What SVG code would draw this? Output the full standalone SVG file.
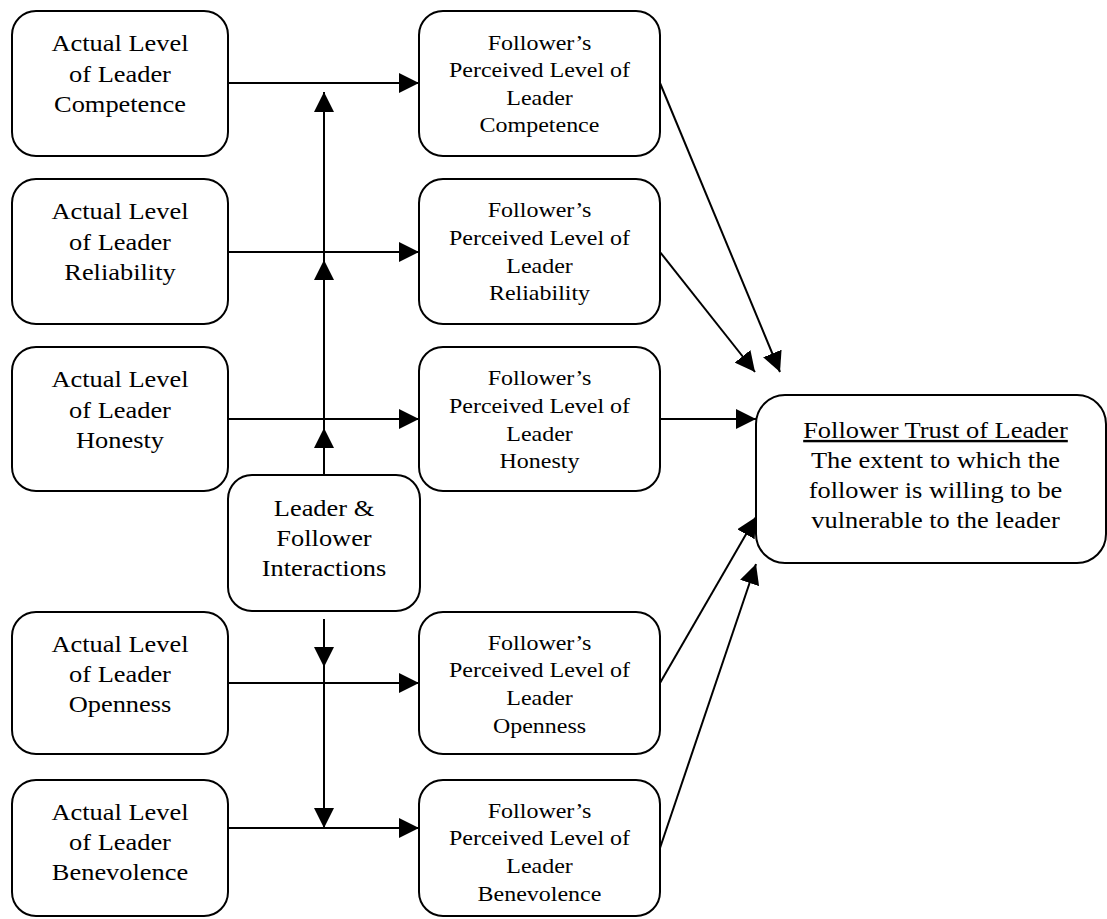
<svg xmlns="http://www.w3.org/2000/svg" width="1107" height="919" viewBox="0 0 1107 919">
<style>
.box{fill:#fff;stroke:#000;stroke-width:2}
.l{font-family:"Liberation Serif","Times New Roman",serif;font-size:24px;text-anchor:middle;fill:#000}
.m{font-family:"Liberation Serif","Times New Roman",serif;font-size:22px;text-anchor:middle;fill:#000}
.c{fill:none;stroke:#000;stroke-width:2;marker-end:url(#ah)}
</style>
<defs>
<marker id="ah" viewBox="0 0 20 20" markerWidth="20" markerHeight="20" refX="20" refY="10" orient="auto" markerUnits="userSpaceOnUse">
<path d="M0,0 L20,10 L0,20 z" fill="#000"/>
</marker>
</defs>
<g id="connectors">
<line class="c" x1="228" y1="83" x2="419" y2="83"/>
<line class="c" x1="228" y1="252" x2="419" y2="252"/>
<line class="c" x1="228" y1="419" x2="419" y2="419"/>
<line class="c" x1="228" y1="683" x2="419" y2="683"/>
<line class="c" x1="228" y1="828" x2="419" y2="828"/>
<line class="c" x1="324" y1="475" x2="324" y2="92"/>
<line class="c" x1="324" y1="475" x2="324" y2="260"/>
<line class="c" x1="324" y1="475" x2="324" y2="428"/>
<line class="c" x1="324" y1="619" x2="324" y2="667"/>
<line class="c" x1="324" y1="619" x2="324" y2="828"/>
<line class="c" x1="660" y1="419" x2="756" y2="419"/>
<line class="c" x1="660" y1="83" x2="780" y2="372"/>
<line class="c" x1="660" y1="252" x2="755" y2="372"/>
<line class="c" x1="660" y1="683" x2="756" y2="517"/>
<line class="c" x1="660" y1="848" x2="756" y2="564"/>
</g>
<g id="actual-competence">
<rect class="box" x="12" y="11" width="216" height="145" rx="24"/>
<g transform="translate(120,0) scale(1.1,1)">
<text class="l" x="0" y="51.5">Actual Level</text>
<text class="l" x="0" y="82">of Leader</text>
<text class="l" x="0" y="112.5">Competence</text>
</g>
</g>
<g id="actual-reliability">
<rect class="box" x="12" y="179" width="216" height="145" rx="24"/>
<g transform="translate(120,0) scale(1.1,1)">
<text class="l" x="0" y="219.5">Actual Level</text>
<text class="l" x="0" y="250">of Leader</text>
<text class="l" x="0" y="280.5">Reliability</text>
</g>
</g>
<g id="actual-honesty">
<rect class="box" x="12" y="347" width="216" height="144" rx="24"/>
<g transform="translate(120,0) scale(1.1,1)">
<text class="l" x="0" y="387.5">Actual Level</text>
<text class="l" x="0" y="418">of Leader</text>
<text class="l" x="0" y="448.5">Honesty</text>
</g>
</g>
<g id="actual-openness">
<rect class="box" x="12" y="612" width="216" height="142" rx="24"/>
<g transform="translate(120,0) scale(1.1,1)">
<text class="l" x="0" y="652">Actual Level</text>
<text class="l" x="0" y="682">of Leader</text>
<text class="l" x="0" y="712">Openness</text>
</g>
</g>
<g id="actual-benevolence">
<rect class="box" x="12" y="780" width="216" height="136" rx="24"/>
<g transform="translate(120,0) scale(1.1,1)">
<text class="l" x="0" y="820">Actual Level</text>
<text class="l" x="0" y="850">of Leader</text>
<text class="l" x="0" y="880">Benevolence</text>
</g>
</g>
<g id="interactions">
<rect class="box" x="228" y="475" width="192" height="136" rx="24"/>
<g transform="translate(324,0) scale(1.1,1)">
<text class="l" x="0" y="516">Leader &amp;</text>
<text class="l" x="0" y="546">Follower</text>
<text class="l" x="0" y="576.5">Interactions</text>
</g>
</g>
<g id="perceived-competence">
<rect class="box" x="419" y="11" width="241" height="145" rx="24"/>
<g transform="translate(539.5,0) scale(1.09,1)">
<text class="m" x="0" y="50">Follower’s</text>
<text class="m" x="0" y="77.3">Perceived Level of</text>
<text class="m" x="0" y="105">Leader</text>
<text class="m" x="0" y="132.5">Competence</text>
</g>
</g>
<g id="perceived-reliability">
<rect class="box" x="419" y="179" width="241" height="145" rx="24"/>
<g transform="translate(539.5,0) scale(1.09,1)">
<text class="m" x="0" y="217.5">Follower’s</text>
<text class="m" x="0" y="245">Perceived Level of</text>
<text class="m" x="0" y="273">Leader</text>
<text class="m" x="0" y="300">Reliability</text>
</g>
</g>
<g id="perceived-honesty">
<rect class="box" x="419" y="347" width="241" height="144" rx="24"/>
<g transform="translate(539.5,0) scale(1.09,1)">
<text class="m" x="0" y="385.5">Follower’s</text>
<text class="m" x="0" y="413">Perceived Level of</text>
<text class="m" x="0" y="441">Leader</text>
<text class="m" x="0" y="468">Honesty</text>
</g>
</g>
<g id="perceived-openness">
<rect class="box" x="419" y="612" width="241" height="142" rx="24"/>
<g transform="translate(539.5,0) scale(1.09,1)">
<text class="m" x="0" y="650">Follower’s</text>
<text class="m" x="0" y="677.3">Perceived Level of</text>
<text class="m" x="0" y="705">Leader</text>
<text class="m" x="0" y="732.7">Openness</text>
</g>
</g>
<g id="perceived-benevolence">
<rect class="box" x="419" y="780" width="241" height="136" rx="24"/>
<g transform="translate(539.5,0) scale(1.09,1)">
<text class="m" x="0" y="818">Follower’s</text>
<text class="m" x="0" y="845.3">Perceived Level of</text>
<text class="m" x="0" y="873">Leader</text>
<text class="m" x="0" y="900.7">Benevolence</text>
</g>
</g>
<g id="trust">
<rect class="box" x="756" y="395" width="350" height="168" rx="29"/>
<g transform="translate(935.5,0) scale(1.1,1)">
<text class="l" x="0" y="438" text-decoration="underline">Follower Trust of Leader</text>
<text class="l" x="0" y="468">The extent to which the</text>
<text class="l" x="0" y="498">follower is willing to be</text>
<text class="l" x="0" y="528">vulnerable to the leader</text>
</g>
</g>
</svg>
